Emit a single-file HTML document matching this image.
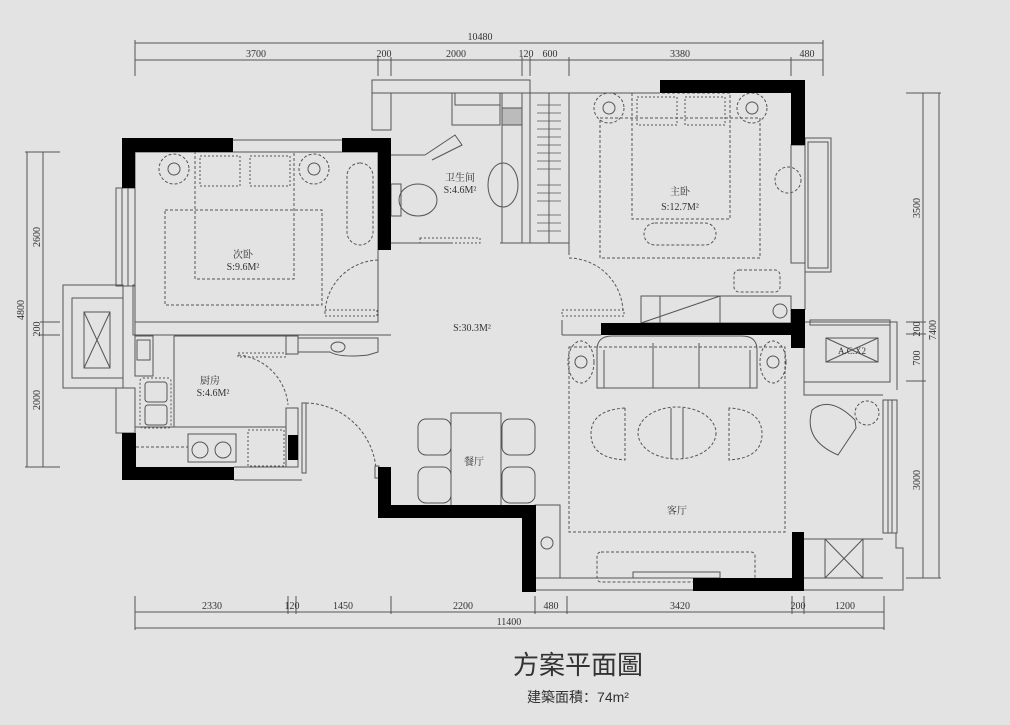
<!DOCTYPE html>
<html><head><meta charset="utf-8"><style>
html,body{margin:0;padding:0;background:#e3e3e3;}
svg{display:block}
text{font-family:"Liberation Serif","Noto Serif CJK SC",serif;fill:#333;}
.s{font-family:"Liberation Sans","Noto Sans CJK SC",sans-serif;}
</style></head><body>
<svg width="1010" height="725" viewBox="0 0 1010 725" xmlns="http://www.w3.org/2000/svg">
<rect width="1010" height="725" fill="#e3e3e3"/>
<g stroke="#555" stroke-width="1" fill="none">
<line x1="135" y1="43" x2="823" y2="43"/>
<line x1="135" y1="60" x2="823" y2="60"/>
<g>
<line x1="135" y1="40" x2="135" y2="76"/><line x1="378" y1="57" x2="378" y2="76"/><line x1="391" y1="57" x2="391" y2="76"/>
<line x1="522" y1="57" x2="522" y2="76"/><line x1="530" y1="57" x2="530" y2="76"/><line x1="569" y1="57" x2="569" y2="76"/>
<line x1="791" y1="57" x2="791" y2="76"/><line x1="823" y1="40" x2="823" y2="76"/>
</g>
<line x1="27" y1="152" x2="27" y2="467"/><line x1="43" y1="152" x2="43" y2="467"/>
<line x1="25" y1="152" x2="60" y2="152"/><line x1="25" y1="467" x2="60" y2="467"/>
<line x1="40" y1="322" x2="60" y2="322"/><line x1="40" y1="335" x2="60" y2="335"/>
<line x1="923" y1="93" x2="923" y2="578"/><line x1="939" y1="93" x2="939" y2="578"/>
<line x1="906" y1="93" x2="941" y2="93"/><line x1="906" y1="322" x2="926" y2="322"/><line x1="906" y1="334" x2="926" y2="334"/>
<line x1="906" y1="381" x2="926" y2="381"/><line x1="906" y1="578" x2="941" y2="578"/>
<line x1="135" y1="612" x2="884" y2="612"/><line x1="135" y1="628" x2="884" y2="628"/>
<line x1="135" y1="596" x2="135" y2="630"/><line x1="288" y1="596" x2="288" y2="614"/><line x1="296" y1="596" x2="296" y2="614"/>
<line x1="391" y1="596" x2="391" y2="614"/><line x1="535" y1="596" x2="535" y2="614"/><line x1="567" y1="596" x2="567" y2="614"/>
<line x1="792" y1="596" x2="792" y2="614"/><line x1="804" y1="596" x2="804" y2="614"/><line x1="884" y1="596" x2="884" y2="630"/>

<rect x="135" y="152" width="243" height="170"/>
<line x1="135" y1="335" x2="391" y2="335"/>
<line x1="233" y1="140" x2="342" y2="140"/><line x1="233" y1="152" x2="342" y2="152"/>
<rect x="116" y="188" width="19" height="98"/><line x1="122" y1="188" x2="122" y2="286"/><line x1="128" y1="188" x2="128" y2="286"/>
<rect x="63" y="285" width="60" height="103"/><rect x="72" y="298" width="51" height="80"/>
<rect x="84" y="312" width="26" height="56"/><line x1="84" y1="312" x2="110" y2="368"/><line x1="110" y1="312" x2="84" y2="368"/>
<rect x="133" y="285" width="2" height="50"/>
<rect x="116" y="388" width="19" height="45"/>
<rect x="195" y="152" width="99" height="127" stroke-dasharray="3,2"/>
<rect x="165" y="210" width="157" height="95" stroke-dasharray="3,2"/>
<rect x="200" y="156" width="40" height="30" stroke-dasharray="2,2"/><rect x="250" y="156" width="40" height="30" stroke-dasharray="2,2"/>
<circle cx="174" cy="169" r="15" stroke-dasharray="3,2"/><circle cx="174" cy="169" r="6"/>
<circle cx="314" cy="169" r="15" stroke-dasharray="3,2"/><circle cx="314" cy="169" r="6"/>
<rect x="347" y="163" width="26" height="82" rx="13" stroke-dasharray="3,2"/>
<path d="M378 260 A55 55 0 0 0 325 312" stroke-dasharray="3,2"/>
<rect x="325" y="310" width="52" height="6" stroke-dasharray="2,2"/>
<rect x="372" y="80" width="158" height="13"/>
<rect x="372" y="93" width="19" height="37"/>
<line x1="391" y1="93" x2="530" y2="93"/>
<line x1="391" y1="155" x2="425" y2="155"/><path d="M425 155 L455 135 L462 145 L432 160"/>
<rect x="452" y="93" width="48" height="32"/><rect x="455" y="93" width="45" height="12"/>
<rect x="502" y="93" width="20" height="32"/><rect x="502" y="108" width="20" height="17" fill="#bbb"/>
<line x1="502" y1="93" x2="502" y2="243"/><line x1="522" y1="93" x2="522" y2="243"/>
<ellipse cx="503" cy="185" rx="15" ry="22"/>
<ellipse cx="418" cy="200" rx="19" ry="16"/><rect x="391" y="184" width="10" height="32"/>
<rect x="420" y="238" width="60" height="5" stroke-dasharray="2,2"/>
<line x1="391" y1="243" x2="452" y2="243"/><line x1="500" y1="243" x2="530" y2="243"/>
<rect x="530" y="93" width="39" height="150"/><line x1="549" y1="93" x2="549" y2="243"/>
<g stroke-width="0.8"><path d="M537 105h24M537 113h24M537 121h24M537 129h24M537 137h24M537 145h24M537 153h24M537 161h24M537 169h24M537 185h24M537 193h24M537 201h24M537 215h24M537 223h24M537 231h24"/></g>
<line x1="569" y1="93" x2="660" y2="93"/>
<line x1="569" y1="93" x2="569" y2="255"/>
<rect x="632" y="93" width="98" height="126" stroke-dasharray="3,2"/>
<rect x="600" y="118" width="160" height="140" stroke-dasharray="3,2"/>
<rect x="637" y="97" width="40" height="28" stroke-dasharray="2,2"/><rect x="685" y="97" width="40" height="28" stroke-dasharray="2,2"/>
<circle cx="609" cy="108" r="15" stroke-dasharray="3,2"/><circle cx="609" cy="108" r="6"/>
<circle cx="752" cy="108" r="15" stroke-dasharray="3,2"/><circle cx="752" cy="108" r="6"/>
<rect x="644" y="223" width="72" height="22" rx="11" stroke-dasharray="3,2"/>
<circle cx="788" cy="180" r="13" stroke-dasharray="3,2"/>
<rect x="734" y="270" width="46" height="22" rx="5" stroke-dasharray="3,2"/>
<rect x="641" y="296" width="150" height="27"/><line x1="660" y1="296" x2="660" y2="323"/><line x1="641" y1="323" x2="720" y2="296"/><line x1="720" y1="296" x2="720" y2="323"/>
<circle cx="780" cy="311" r="7"/>
<path d="M569 258 A55 55 0 0 1 623 312" stroke-dasharray="3,2"/>
<rect x="562" y="310" width="62" height="6" stroke-dasharray="2,2"/>
<line x1="562" y1="320" x2="562" y2="335"/><line x1="562" y1="335" x2="601" y2="335"/>
<rect x="791" y="145" width="14" height="118"/>
<rect x="805" y="138" width="26" height="134"/><rect x="808" y="142" width="20" height="126"/>
<line x1="805" y1="263" x2="805" y2="310"/>
<rect x="286" y="336" width="12" height="18"/>
<path d="M298 338 H378 V352 L368 355 Q340 358 330 352 L298 352 Z"/>
<ellipse cx="338" cy="347" rx="7" ry="5"/>
<path d="M238 355 A55 55 0 0 1 288 405" stroke-dasharray="3,2"/>
<rect x="238" y="353" width="48" height="4" stroke-dasharray="2,2"/>
<rect x="135" y="336" width="18" height="40"/><rect x="137" y="340" width="13" height="20"/>
<line x1="174" y1="336" x2="174" y2="427"/><line x1="135" y1="427" x2="286" y2="427"/>
<line x1="174" y1="336" x2="286" y2="336"/>
<rect x="140" y="378" width="31" height="50" rx="3" stroke-dasharray="2,2"/>
<rect x="145" y="382" width="22" height="20" rx="3"/><rect x="145" y="405" width="22" height="20" rx="3"/>
<rect x="188" y="434" width="48" height="28"/>
<circle cx="200" cy="450" r="8"/><circle cx="223" cy="450" r="8"/>
<rect x="248" y="430" width="36" height="36" stroke-dasharray="2,2"/>
<line x1="136" y1="447" x2="188" y2="447" stroke-dasharray="3,2"/>
<rect x="286" y="408" width="12" height="59"/>
<rect x="302" y="403" width="4" height="70"/><line x1="234" y1="480" x2="302" y2="480"/><line x1="234" y1="467" x2="286" y2="467"/>
<path d="M306 403 A72 72 0 0 1 376 468" stroke-dasharray="3,2"/>
<rect x="375" y="466" width="4" height="12"/>
<rect x="451" y="413" width="50" height="93"/>
<rect x="418" y="419" width="33" height="36" rx="8"/><rect x="418" y="467" width="33" height="36" rx="8"/>
<rect x="502" y="419" width="33" height="36" rx="8"/><rect x="502" y="467" width="33" height="36" rx="8"/>
<rect x="569" y="347" width="216" height="185" stroke-dasharray="3,2"/>
<path d="M597 388 V350 Q597 336 612 336 H742 Q757 336 757 350 V388 Z"/>
<line x1="604" y1="388" x2="604" y2="350"/><line x1="750" y1="388" x2="750" y2="350"/>
<line x1="653" y1="343" x2="653" y2="388"/><line x1="699" y1="343" x2="699" y2="388"/>
<ellipse cx="581" cy="362" rx="13" ry="21" stroke-dasharray="3,2"/><circle cx="581" cy="362" r="6"/>
<ellipse cx="773" cy="362" rx="13" ry="21" stroke-dasharray="3,2"/><circle cx="773" cy="362" r="6"/>
<ellipse cx="677" cy="433" rx="39" ry="26" stroke-dasharray="3,2"/>
<line x1="671" y1="408" x2="671" y2="459"/><line x1="683" y1="408" x2="683" y2="459"/>
<path d="M625 408 V460 Q591 458 591 434 Q591 410 625 408Z" stroke-dasharray="3,2"/>
<path d="M729 408 V460 Q762 458 762 434 Q762 410 729 408Z" stroke-dasharray="3,2"/>
<rect x="597" y="552" width="158" height="30" rx="4" stroke-dasharray="3,2"/>
<rect x="633" y="572" width="87" height="6"/>
<rect x="535" y="505" width="25" height="73"/><circle cx="547" cy="543" r="6"/>
<line x1="535" y1="590" x2="693" y2="590"/><line x1="535" y1="578" x2="693" y2="578"/>
<rect x="804" y="322" width="86" height="60"/><rect x="826" y="338" width="52" height="24"/>
<line x1="826" y1="338" x2="878" y2="362"/><line x1="878" y1="338" x2="826" y2="362"/>
<rect x="810" y="320" width="80" height="5"/>
<path d="M804 348 V395 H883 M897 390 V322 H890"/>
<rect x="883" y="400" width="14" height="133"/><line x1="888" y1="400" x2="888" y2="533"/><line x1="892" y1="400" x2="892" y2="533"/>
<path d="M838 455 Q803 440 812 410 Q830 395 855 420 L856 428 Z"/>
<circle cx="867" cy="413" r="12" stroke-dasharray="3,2"/>
<rect x="825" y="539" width="38" height="39"/><line x1="825" y1="539" x2="863" y2="578"/><line x1="863" y1="539" x2="825" y2="578"/>
<line x1="804" y1="539" x2="883" y2="539"/><line x1="804" y1="578" x2="883" y2="578"/>
<path d="M804 590 H903 V548 H896 V533"/>
</g>
<g fill="#000">
<rect x="122" y="138" width="111" height="14"/><rect x="122" y="138" width="13" height="50"/>
<rect x="342" y="138" width="49" height="14"/><rect x="378" y="138" width="13" height="112"/>
<rect x="660" y="80" width="145" height="13"/><rect x="791" y="80" width="14" height="65"/>
<rect x="601" y="323" width="204" height="12"/><rect x="791" y="309" width="14" height="39"/>
<rect x="122" y="433" width="14" height="47"/><rect x="122" y="467" width="112" height="13"/>
<rect x="288" y="435" width="10" height="25"/>
<rect x="378" y="467" width="13" height="51"/><rect x="378" y="505" width="157" height="13"/><rect x="522" y="505" width="14" height="87"/>
<rect x="693" y="578" width="111" height="13"/><rect x="792" y="532" width="12" height="59"/>
</g>
<g font-size="10" text-anchor="middle">
<text x="480" y="40">10480</text>
<text x="256" y="57">3700</text><text x="384" y="57">200</text><text x="456" y="57">2000</text>
<text x="526" y="57">120</text><text x="550" y="57">600</text><text x="680" y="57">3380</text><text x="807" y="57">480</text>
<text x="212" y="609">2330</text><text x="292" y="609">120</text><text x="343" y="609">1450</text><text x="463" y="609">2200</text>
<text x="551" y="609">480</text><text x="680" y="609">3420</text><text x="798" y="609">200</text><text x="845" y="609">1200</text>
<text x="509" y="625">11400</text>
<text transform="translate(40,237) rotate(-90)">2600</text>
<text transform="translate(24,310) rotate(-90)">4800</text>
<text transform="translate(40,329) rotate(-90)">200</text>
<text transform="translate(40,400) rotate(-90)">2000</text>
<text transform="translate(920,208) rotate(-90)">3500</text>
<text transform="translate(920,329) rotate(-90)">200</text>
<text transform="translate(936,330) rotate(-90)">7400</text>
<text transform="translate(920,358) rotate(-90)">700</text>
<text transform="translate(920,480) rotate(-90)">3000</text>
</g>
<g font-size="10" text-anchor="middle">
<text x="243" y="258">次卧</text><text x="243" y="270">S:9.6M²</text>
<text x="460" y="181">卫生间</text><text x="460" y="193">S:4.6M²</text>
<text x="680" y="195">主卧</text><text x="680" y="210">S:12.7M²</text>
<text x="472" y="331">S:30.3M²</text>
<text x="210" y="384">厨房</text><text x="213" y="396">S:4.6M²</text>
<text x="474" y="465">餐厅</text>
<text x="677" y="514">客厅</text>
<text x="852" y="354" font-size="9" fill="#666">A.C.X2</text>
</g>
<text class="s" x="578" y="674" font-size="26" text-anchor="middle" fill="#3a3a3a">方案平面圖</text>
<text class="s" x="578" y="702" font-size="14" text-anchor="middle" fill="#444">建築面積：74m²</text>
</svg>
</body></html>
